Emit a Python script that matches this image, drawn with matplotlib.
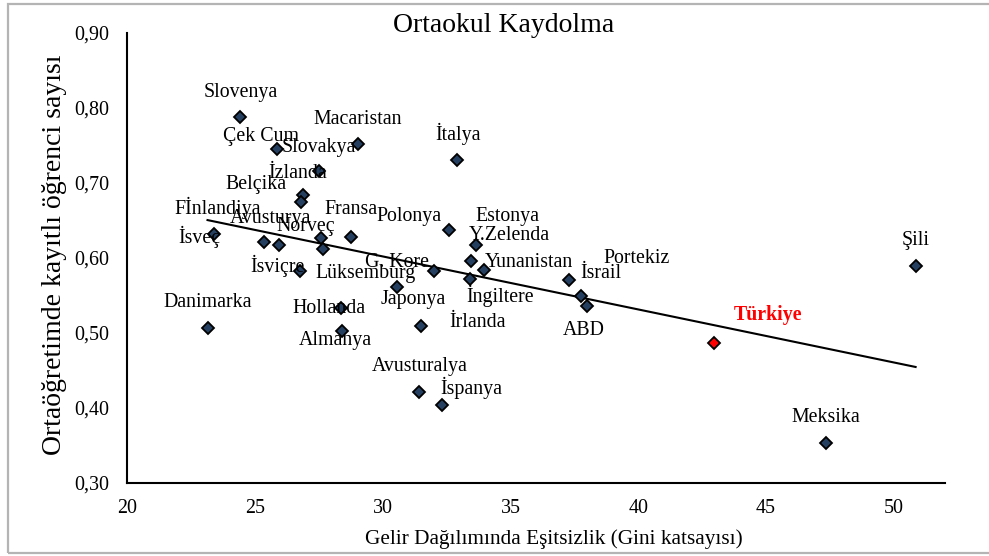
import numpy as np
import matplotlib
matplotlib.use("Agg")
import matplotlib.pyplot as plt
from matplotlib.patches import Rectangle
from matplotlib.ticker import FuncFormatter

plt.rcParams['font.family'] = ['Liberation Serif', 'DejaVu Serif']

# ---- data ----
countries = ["Slovenya", "Çek Cum", "Macaristan", "İzlanda", "Belçika", "Slovakya",
             "İsveç", "Fİnlandiya", "Avusturya", "Norveç", "Fransa", "Lüksemburg",
             "İsviçre", "İtalya", "Polonya", "Estonya", "Y.Zelenda", "Yunanistan",
             "İngiltere", "G. Kore", "Japonya", "İsrail", "Portekiz", "ABD", "Şili",
             "Danimarka", "Hollanda", "Almanya", "İrlanda", "Türkiye", "Avusturalya",
             "İspanya", "Meksika"]

gini = [24.44, 25.85, 29.04, 27.50, 26.89, 26.82,
        23.40, 25.35, 25.94, 27.57, 28.76, 27.67,
        26.78, 32.90, 32.59, 33.66, 33.46, 33.95,
        33.43, 32.02, 30.55, 37.30, 37.76, 38.01, 50.85,
        23.15, 28.36, 28.42, 31.50, 42.97, 31.42,
        32.33, 47.33]

enroll = [0.788, 0.745, 0.752, 0.716, 0.684, 0.675,
          0.632, 0.622, 0.618, 0.627, 0.628, 0.612,
          0.583, 0.731, 0.638, 0.618, 0.596, 0.584,
          0.572, 0.583, 0.562, 0.571, 0.550, 0.536, 0.589,
          0.507, 0.534, 0.503, 0.510, 0.487, 0.421,
          0.404, 0.353]

highlight = "Türkiye"

x_ticks = [20, 25, 30, 35, 40, 45, 50]
y_ticks = [0.30, 0.40, 0.50, 0.60, 0.70, 0.80, 0.90]

title = "Ortaokul Kaydolma"
x_title = "Gelir Dağılımında Eşitsizlik (Gini katsayısı)"
y_title = "Ortaöğretimde kayıtlı öğrenci sayısı"

# label offsets (pixels) relative to each point - layout only
label_offsets = [(0, 26.7), (-15.5, 14.7), (0, 27), (-21.5, -0.7), (-47.3, 12.7), (17.5, 56.7),
                 (-14.7, -1), (-45.7, 35.7), (-8.5, 27.6), (-15, 13.7), (0.4, 29.4), (42.5, -22.4),
                 (-23.2, 6.7), (1, 27.7), (-40.1, 15.3), (31.6, 30.3), (37.8, 27.4), (45.7, 9.7),
                 (29.6, -14.6), (-37.2, 10.7), (16.3, -10.6), (32, 8), (55.8, 39), (-3.5, -22.3), (0, 27.7),
                 (0, 27.7), (-12.2, 0.6), (-6.4, -7.3), (56.5, 5.3), (54.3, 30), (0.4, 27.3),
                 (29.6, 18.6), (0, 27.6)]
label_shift_y = -2  # small global vertical correction (pixels)

# ---- figure ----
fig = plt.figure(figsize=(9.89, 5.56), dpi=100)
ax = fig.add_axes([127/989, 1-483/556, (945-127)/989, (483-33)/556])

gx = np.array(gini)
ey = np.array(enroll)

# trendline (least squares)
slope, intercept = np.polyfit(gx, ey, 1)
xs = np.array([gx.min(), gx.max()])
ax.plot(xs, slope*xs + intercept, color='black', lw=1.5, zorder=2)

colors = ['#FF0000' if c == highlight else '#243F60' for c in countries]
for xi, yi, c in zip(gx, ey, colors):
    ax.plot(xi, yi, marker='D', ms=6.2, mfc=c, mec='black', mew=1.3, ls='none', zorder=3)

for c, xi, yi, off in zip(countries, gx, ey, label_offsets):
    hl = (c == highlight)
    ax.annotate(c, (xi, yi), xytext=(off[0], off[1] + label_shift_y),
                textcoords='offset pixels',
                ha='center', va='center', fontsize=14.3,
                color='#FF0000' if hl else 'black',
                fontweight='bold' if hl else 'normal', zorder=4)

ax.set_xlim(20, 52)
ax.set_ylim(0.30, 0.90)
ax.set_xticks(x_ticks)
ax.set_yticks(y_ticks)
ax.yaxis.set_major_formatter(FuncFormatter(lambda v, p: f"{v:.2f}".replace('.', ',')))
ax.tick_params(axis='both', length=0, labelsize=14.4)
ax.tick_params(axis='y', pad=13)
ax.tick_params(axis='x', pad=11.5)

for s in ['top', 'right']:
    ax.spines[s].set_visible(False)
for s in ['left', 'bottom']:
    ax.spines[s].set_linewidth(1.5)
    ax.spines[s].set_color('black')

ax.set_xlabel(x_title, fontsize=15.3, va='center')
ax.xaxis.set_label_coords((554-127)/818, (483-539)/450)
ax.set_ylabel(y_title, fontsize=20, va='center', ha='center')
ax.yaxis.set_label_coords((55-127)/818, (483-255)/450)

fig.text(504/989, 1-25/556, title, fontsize=20, ha='center', va='center')

fig.patches.append(Rectangle((7.5/989, 3/556), 1.1, 1 - 6.5/556,
                             transform=fig.transFigure, fill=False,
                             edgecolor='#B4B4B4', lw=1.6, zorder=10))

fig.savefig("out.png", dpi=100)
